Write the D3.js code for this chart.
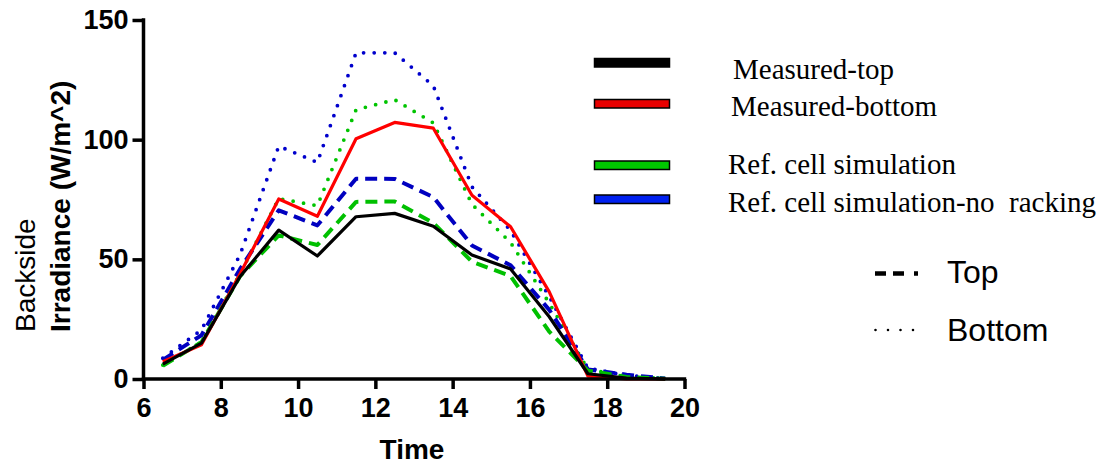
<!DOCTYPE html>
<html>
<head>
<meta charset="utf-8">
<script src="https://cdn.jsdelivr.net/npm/d3@7"></script>
<style>
  body { margin: 0; background: #fff; }
  svg { display: block; }
</style>
</head>
<body>
<svg width="1110" height="467"></svg>
<script>
// hours of the day (half-hour centred samples)
var time = [6.5, 7.5, 8.5, 9.5, 10.5, 11.5, 12.5, 13.5, 14.5, 15.5, 16.5, 17.5, 18.5, 19.5];

var measuredTop    = [6.2, 15, 42.8, 62.2, 51.4, 67.8, 69.2, 63.8, 51.8, 46, 26, 2.2, 0.4, 0];
var measuredBottom = [7.2, 14.3, 44, 75.2, 68, 100.4, 107.2, 104.8, 76.8, 63.6, 36.4, 1.2, 0, 0];
var refTop         = [5.5, 15.4, 43, 60, 56, 74, 74.2, 65.2, 49, 43, 19.8, 3.5, 0.8, 0.1];
var refBottom      = [5.8, 15.5, 44, 75.4, 72.4, 112.5, 116.7, 107, 73, 57, 31.7, 4, 1.2, 0.1];
var noRackTop      = [8, 18.3, 46, 70.5, 64.2, 83.7, 83.6, 76, 55.8, 47.5, 28.9, 4, 1.8, 0.2];
var noRackBottom   = [8.7, 20.5, 52, 97.3, 90.5, 136.3, 136.3, 122.5, 80.3, 62, 34.4, 4.5, 1.5, 0.2];

var xTicks = [6, 8, 10, 12, 14, 16, 18, 20];
var yTicks = [0, 50, 100, 150];

var legendNames = ["Measured-top", "Measured-bottom", "Ref. cell simulation", "Ref. cell simulation-no  racking"];
var styleNames = ["Top", "Bottom"];

var svg = d3.select("svg");

var x = d3.scaleLinear().domain([6, 20]).range([143.5, 684.5]);
var y = d3.scaleLinear().domain([0, 150]).range([379, 20]);

var line = d3.line()
    .x(function(d) { return x(d[0]); })
    .y(function(d) { return y(d[1]); });

function pts(vals) {
  return vals.map(function(v, i) { return [time[i], v]; });
}

// series, drawn back to front
var series = [
  { vals: noRackBottom,   color: "#0000cc", dash: "0 10.6", w: 3.8 },
  { vals: refBottom,      color: "#00c400", dash: "0 10.6", w: 3.8 },
  { vals: noRackTop,      color: "#0000c0", dash: "12 7",   w: 4 },
  { vals: refTop,         color: "#00c000", dash: "12 7",   w: 4 },
  { vals: measuredBottom, color: "#ff0000", dash: null,     w: 3.2 },
  { vals: measuredTop,    color: "#000000", dash: null,     w: 3.2 }
];

svg.append("g").selectAll("path")
    .data(series)
  .enter().append("path")
    .attr("d", function(d) { return line(pts(d.vals)); })
    .attr("fill", "none")
    .attr("stroke", function(d) { return d.color; })
    .attr("stroke-width", function(d) { return d.w; })
    .attr("stroke-dasharray", function(d) { return d.dash; })
    .attr("stroke-linecap", function(d) { return d.dash && d.dash.indexOf("0 ") === 0 ? "round" : "butt"; })
    .attr("stroke-linejoin", "round");

// axes
var xAxis = svg.append("g")
    .attr("transform", "translate(0," + y(0) + ")")
    .call(d3.axisBottom(x).tickValues(xTicks).tickSize(10).tickSizeOuter(0).tickPadding(9));

var yAxis = svg.append("g")
    .attr("transform", "translate(" + x(6) + ",0)")
    .call(d3.axisLeft(y).tickValues(yTicks).tickSize(11).tickSizeOuter(0).tickPadding(4));

[xAxis, yAxis].forEach(function(a) {
  a.select(".domain").attr("stroke", "#000").attr("stroke-width", 3.5);
  a.selectAll(".tick line").attr("stroke", "#000").attr("stroke-width", 3.5);
  a.selectAll(".tick text")
    .attr("fill", "#000")
    .style("font-family", "'Liberation Sans', Arial, sans-serif")
    .style("font-weight", "bold")
    .style("font-size", "27px");
});
xAxis.select(".domain").attr("d", "M" + (x(6) - 1.7) + ",0H" + (x(20) + 1.7));
yAxis.select(".domain").attr("d", "M0," + (y(150) - 1.7) + "V" + y(0));

// axis titles
svg.append("text")
    .attr("x", 412).attr("y", 459)
    .attr("text-anchor", "middle")
    .style("font-family", "'Liberation Sans', Arial, sans-serif")
    .style("font-weight", "bold")
    .style("font-size", "28px")
    .text("Time");

var yTitle = svg.append("text")
    .attr("transform", "translate(0,332) rotate(-90)")
    .style("font-family", "'Liberation Sans', Arial, sans-serif")
    .style("font-size", "28px");
yTitle.append("tspan").attr("x", 0).attr("y", 35).text("Backside");
yTitle.append("tspan").attr("x", 0).attr("y", 70).style("font-weight", "bold").text("Irradiance (W/m^2)");

// colour legend
var swatch = [
  { color: "#000000", y: 58.5, tx: 733, ty: 79 },
  { color: "#e80000", y: 99.5, tx: 731, ty: 116 },
  { color: "#00c800", y: 161, tx: 728, ty: 174 },
  { color: "#0020f0", y: 195, tx: 728, ty: 212 }
];

var leg = svg.append("g");
leg.selectAll("rect")
    .data(swatch)
  .enter().append("rect")
    .attr("x", 594.5)
    .attr("y", function(d) { return d.y; })
    .attr("width", 75)
    .attr("height", 8.5)
    .attr("fill", function(d) { return d.color; })
    .attr("stroke", "#000")
    .attr("stroke-width", 1.5);

leg.selectAll("text")
    .data(swatch)
  .enter().append("text")
    .attr("x", function(d) { return d.tx; })
    .attr("y", function(d) { return d.ty; })
    .attr("xml:space", "preserve")
    .style("font-family", "'Liberation Serif', 'Times New Roman', serif")
    .style("font-size", "29px")
    .attr("fill", "#000")
    .text(function(d, i) { return legendNames[i]; });

// line-style legend
var styleLeg = [
  { dash: "11 7 11 10 4 40", cap: "butt", w: 4.3, y: 273.5, ty: 283 },
  { dash: "0 12.5", cap: "round", w: 2.6, y: 330, ty: 341 }
];

leg.selectAll("line.style")
    .data(styleLeg)
  .enter().append("line")
    .attr("class", "style")
    .attr("x1", function(d) { return d.cap === "round" ? 875.5 : 875; })
    .attr("x2", function(d) { return d.cap === "round" ? 916 : 922; })
    .attr("y1", function(d) { return d.y; })
    .attr("y2", function(d) { return d.y; })
    .attr("stroke", "#000")
    .attr("stroke-width", function(d) { return d.w; })
    .attr("stroke-linecap", function(d) { return d.cap; })
    .attr("stroke-dasharray", function(d) { return d.dash; });

leg.selectAll("text.style")
    .data(styleLeg)
  .enter().append("text")
    .attr("class", "style")
    .attr("x", 947)
    .attr("y", function(d) { return d.ty; })
    .style("font-family", "'Liberation Sans', Arial, sans-serif")
    .style("font-size", "32px")
    .attr("fill", "#000")
    .text(function(d, i) { return styleNames[i]; });
</script>
</body>
</html>
